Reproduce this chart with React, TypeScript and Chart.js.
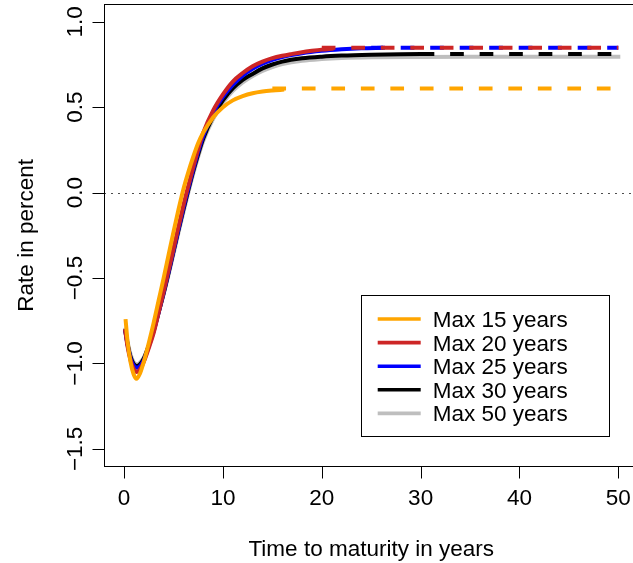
import React, { useEffect, useRef } from 'react';
import { Chart, registerables } from 'chart.js';

Chart.register(...registerables);

// ---------- data ----------
const seriesNames = ['Max 15 years', 'Max 20 years', 'Max 25 years', 'Max 30 years', 'Max 50 years'];
const seriesColors = ['#FFA500', '#CD2626', '#0000FF', '#000000', '#BEBEBE'];

const maturities15 = [0.15, 0.35, 0.65, 0.95, 1.25, 1.6, 2.0, 2.5, 3.0, 3.5, 4.0, 4.5, 5.0, 5.5, 6.0, 6.5, 7.0, 7.5, 8.0, 9.0, 10.0, 11.0, 12.0, 13.0, 14.0, 15.0, 16.2];
const rates15 = [-0.74, -0.87, -0.99, -1.06, -1.09, -1.06, -0.99, -0.88, -0.76, -0.63, -0.5, -0.365, -0.23, -0.1, 0.02, 0.12, 0.21, 0.29, 0.35, 0.44, 0.5, 0.54, 0.565, 0.582, 0.592, 0.598, 0.603];

const maturities20 = [0.1, 0.35, 0.65, 0.95, 1.3, 1.6, 2.0, 2.5, 3.0, 3.5, 4.0, 4.5, 5.0, 5.5, 6.0, 6.5, 7.0, 7.5, 8.0, 9.0, 10.0, 11.0, 12.0, 13.0, 14.0, 15.0, 16.0, 17.0, 18.0, 19.0, 20.0, 21.2];
const rates20 = [-0.8, -0.9, -0.98, -1.03, -1.05, -1.035, -0.99, -0.91, -0.82, -0.7, -0.58, -0.455, -0.33, -0.2, -0.075, 0.04, 0.15, 0.255, 0.35, 0.48, 0.575, 0.65, 0.7, 0.74, 0.767, 0.787, 0.801, 0.812, 0.822, 0.83, 0.837, 0.843];

const maturities25 = [0.1, 0.35, 0.65, 0.95, 1.3, 1.6, 2.0, 2.5, 3.0, 3.5, 4.0, 4.5, 5.0, 5.5, 6.0, 6.5, 7.0, 7.5, 8.0, 9.0, 10.0, 11.0, 12.0, 13.0, 14.0, 15.0, 16.0, 18.0, 20.0, 22.0, 24.0, 26.2];
const rates25 = [-0.8, -0.89, -0.97, -1.01, -1.025, -1.015, -0.98, -0.9, -0.81, -0.7, -0.585, -0.465, -0.34, -0.215, -0.09, 0.025, 0.135, 0.24, 0.33, 0.465, 0.56, 0.63, 0.685, 0.725, 0.755, 0.777, 0.794, 0.816, 0.83, 0.839, 0.845, 0.848];

const maturities30 = [0.1, 0.35, 0.65, 0.95, 1.3, 1.6, 2.0, 2.5, 3.0, 3.5, 4.0, 4.5, 5.0, 5.5, 6.0, 6.5, 7.0, 7.5, 8.0, 9.0, 10.0, 11.0, 12.0, 13.0, 14.0, 15.0, 16.0, 18.0, 20.0, 22.0, 25.0, 28.0, 31.2];
const rates30 = [-0.8, -0.885, -0.96, -1.0, -1.015, -1.005, -0.97, -0.895, -0.805, -0.7, -0.59, -0.47, -0.345, -0.22, -0.1, 0.015, 0.125, 0.225, 0.315, 0.445, 0.54, 0.61, 0.66, 0.695, 0.727, 0.75, 0.767, 0.786, 0.796, 0.802, 0.807, 0.81, 0.811];

const maturities50 = [0.1, 0.35, 0.65, 0.95, 1.3, 1.6, 2.0, 2.5, 3.0, 3.5, 4.0, 4.5, 5.0, 5.5, 6.0, 6.5, 7.0, 7.5, 8.0, 9.0, 10.0, 11.0, 12.0, 13.0, 14.0, 15.0, 16.0, 18.0, 20.0, 22.0, 25.0, 30.0, 35.0, 40.0, 45.0, 50.2];
const rates50 = [-0.79, -0.87, -0.945, -0.99, -1.005, -0.995, -0.965, -0.895, -0.81, -0.705, -0.595, -0.48, -0.36, -0.235, -0.115, 0.0, 0.11, 0.21, 0.3, 0.43, 0.525, 0.595, 0.645, 0.683, 0.713, 0.735, 0.752, 0.772, 0.782, 0.788, 0.792, 0.794, 0.795, 0.795, 0.795, 0.795];

// flat (dashed) extrapolation beyond each maximum maturity
const flatStart = [15, 20, 25, 30];
const flatEnd = [50, 50, 50, 50];
const flatLevel = [0.61, 0.848, 0.848, 0.811];

const xTicks = [0, 10, 20, 30, 40, 50];
const xTickLabels = ['0', '10', '20', '30', '40', '50'];
const yTicks = [-1.5, -1.0, -0.5, 0.0, 0.5, 1.0];
const yTickLabels = ['\u22121.5', '\u22121.0', '\u22120.5', '0.0', '0.5', '1.0'];
const xTitle = 'Time to maturity in years';
const yTitle = 'Rate in percent';

// ---------- chart ----------
const FONT = '22.5px "Liberation Sans", Arial, Helvetica, sans-serif';

const curveX = [maturities15, maturities20, maturities25, maturities30, maturities50];
const curveY = [rates15, rates20, rates25, rates30, rates50];

function buildDatasets() {
  const ds: any[] = [];
  for (let i = 0; i < curveX.length; i++) {
    ds.push({
      label: seriesNames[i],
      data: curveX[i].map((m, k) => ({ x: m, y: curveY[i][k] })),
      borderColor: seriesColors[i],
      borderWidth: 4,
      pointRadius: 0,
      cubicInterpolationMode: 'monotone',
      borderCapStyle: 'butt',
      borderJoinStyle: 'round',
      fill: false,
    });
    if (i < flatStart.length) {
      ds.push({
        label: seriesNames[i] + ' (flat)',
        data: [
          { x: flatStart[i], y: flatLevel[i] },
          { x: flatEnd[i], y: flatLevel[i] },
        ],
        borderColor: seriesColors[i],
        borderWidth: 4,
        borderDash: [13.7, 15.8],
        pointRadius: 0,
        borderCapStyle: 'butt',
        fill: false,
      });
    }
  }
  return ds;
}

const rPlot = {
  id: 'rPlot',
  beforeDatasetsDraw(chart: any) {
    const { ctx, chartArea: a, scales } = chart;
    const y0 = Math.round(scales.y.getPixelForValue(0)) + 0.5;
    ctx.save();
    ctx.strokeStyle = '#000';
    ctx.lineWidth = 1;
    ctx.setLineDash([1.4, 5.6]);
    ctx.beginPath();
    ctx.moveTo(a.left, y0);
    ctx.lineTo(a.right, y0);
    ctx.stroke();
    ctx.restore();
  },
  afterDraw(chart: any) {
    const { ctx, chartArea: a, scales } = chart;
    const xs = scales.x;
    const ys = scales.y;
    ctx.save();
    ctx.strokeStyle = '#000';
    ctx.fillStyle = '#000';
    ctx.lineWidth = 1;
    ctx.setLineDash([]);

    // box
    const L = Math.floor(a.left) + 0.5;
    const T = Math.floor(a.top) + 0.5;
    const R = Math.floor(a.right) + 0.5;
    const B = Math.floor(a.bottom) + 0.5;
    ctx.strokeRect(L, T, R - L, B - T);

    // x ticks + labels
    ctx.font = FONT;
    ctx.textAlign = 'center';
    ctx.textBaseline = 'alphabetic';
    xTicks.forEach((v, i) => {
      const px = Math.round(xs.getPixelForValue(v)) + 0.5;
      ctx.beginPath();
      ctx.moveTo(px, B);
      ctx.lineTo(px, B + 12);
      ctx.stroke();
      ctx.fillText(xTickLabels[i], xs.getPixelForValue(v), 505);
    });
    ctx.fillText(xTitle, (a.left + a.right) / 2, 555.5);

    // y ticks + labels
    yTicks.forEach((v, i) => {
      const py = Math.round(ys.getPixelForValue(v)) + 0.5;
      ctx.beginPath();
      ctx.moveTo(L, py);
      ctx.lineTo(L - 12, py);
      ctx.stroke();
      ctx.save();
      ctx.translate(82, ys.getPixelForValue(v));
      ctx.rotate(-Math.PI / 2);
      ctx.fillText(yTickLabels[i], 0, 0);
      ctx.restore();
    });
    ctx.save();
    ctx.translate(33, (a.top + a.bottom) / 2);
    ctx.rotate(-Math.PI / 2);
    ctx.fillText(yTitle, 0, 0);
    ctx.restore();

    // legend
    const lx = 361.5, ly = 295.5, lw = 248, lh = 141;
    ctx.fillStyle = '#fff';
    ctx.fillRect(lx, ly, lw, lh);
    ctx.strokeStyle = '#000';
    ctx.strokeRect(lx, ly, lw, lh);
    ctx.textAlign = 'left';
    seriesNames.forEach((name, i) => {
      const yy = 319 + i * 23.6;
      ctx.strokeStyle = seriesColors[i];
      ctx.lineWidth = 3.6;
      ctx.beginPath();
      ctx.moveTo(377.7, yy);
      ctx.lineTo(420.7, yy);
      ctx.stroke();
      ctx.fillStyle = '#000';
      ctx.fillText(name, 432.7, yy + 8);
    });
    ctx.restore();
  },
};

export default function App() {
  const ref = useRef<HTMLCanvasElement>(null);
  useEffect(() => {
    const canvas = ref.current;
    if (!canvas) return;
    const chart = new Chart(canvas, {
      type: 'line',
      data: { datasets: buildDatasets() },
      options: {
        responsive: false,
        animation: false,
        devicePixelRatio: 1,
        layout: { padding: { left: 104.3, right: 660 - 638.1, top: 4.7, bottom: 563 - 466 } },
        scales: {
          x: { type: 'linear', min: -2, max: 52, display: false },
          y: { type: 'linear', min: -1.6, max: 1.1, display: false },
        },
        plugins: { legend: { display: false }, tooltip: { enabled: false } },
        elements: { point: { radius: 0 } },
      },
      plugins: [rPlot],
    } as any);
    return () => chart.destroy();
  }, []);
  return (
    <div style={{ position: 'fixed', left: 0, top: 0, width: 633, height: 563, overflow: 'hidden', background: '#fff' }}>
      <canvas ref={ref} width={660} height={563} style={{ display: 'block', width: 660, height: 563 }} />
    </div>
  );
}
